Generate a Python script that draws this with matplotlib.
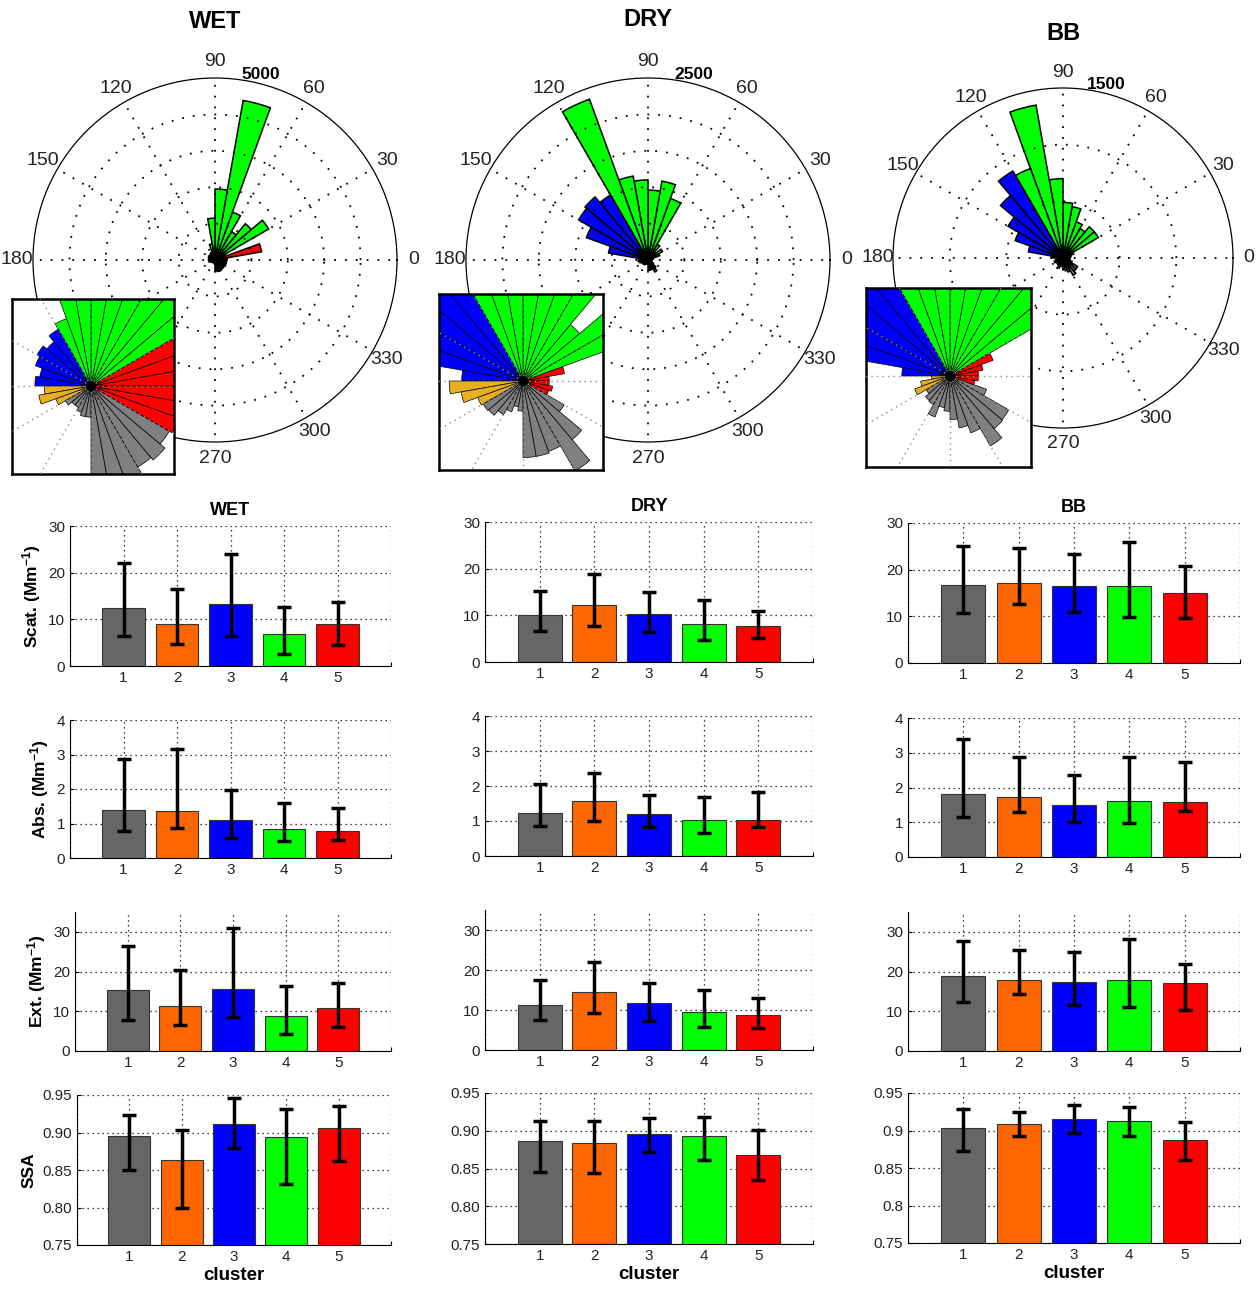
import numpy as np
import matplotlib
matplotlib.use('Agg')
import matplotlib.pyplot as plt
from matplotlib.patches import Wedge

plt.rcParams['font.family'] = ['Liberation Sans', 'DejaVu Sans']
plt.rcParams['mathtext.fontset'] = 'custom'
plt.rcParams['mathtext.bf'] = 'Liberation Sans:bold'
plt.rcParams['mathtext.default'] = 'bf'

W, H = 1258, 1290

regimes = ['WET', 'DRY', 'BB']
clusters = [1, 2, 3, 4, 5]
bar_colors = ['#666666', '#ff6600', '#0000ff', '#00ff00', '#ff0000']
rose_colors = ['#808080', '#e8b020', '#0000ff', '#00ff00', '#ff0000']

# wind direction bins (10 deg), counts and the cluster each bin belongs to
dir_centers = np.arange(5, 360, 10)
wet_counts = [330, 1300, 300, 1700, 1300, 900, 1400, 4450, 1950, 1150, 450, 230,
              210, 185, 200, 190, 167, 180, 150, 170, 120,
              95, 80, 80, 90, 100, 100, 290, 320, 330, 300, 310, 290,
              300, 320, 310]
wet_cluster = [5, 5, 5, 4, 4, 4, 4, 4, 4, 4, 4, 4,
               3, 3, 3, 3, 3, 3, 2, 2, 2,
               1, 1, 1, 1, 1, 1, 1, 1, 1, 1, 1, 1,
               5, 5, 5]
dry_counts = [48, 77, 170, 230, 135, 250, 900, 1100, 960, 1100, 1170, 2350,
              1030, 1130, 1100, 900, 550, 112, 135, 115, 88,
              84, 82, 71, 60, 48, 55, 140, 140, 137, 190, 140, 87,
              50, 55, 48]
dry_cluster = [5, 5, 4, 4, 4, 4, 4, 4, 4, 4, 4, 4,
               3, 3, 3, 3, 3, 3, 2, 2, 2,
               1, 1, 1, 1, 1, 1, 1, 1, 1, 1, 1, 1,
               5, 5, 5]
bb_counts = [62, 73, 100, 360, 360, 300, 340, 460, 490, 700, 1370, 840,
             885, 720, 560, 450, 310, 105, 40, 65, 82,
             60, 70, 72, 95, 70, 77, 95, 115, 132, 176, 150, 148, 85,
             55, 62]
bb_cluster = [5, 5, 5, 4, 4, 4, 4, 4, 4, 4, 4, 4,
              3, 3, 3, 3, 3, 3, 2, 2, 2,
              1, 1, 1, 1, 1, 1, 1, 1, 1, 1, 1, 1, 1,
              5, 5]
rose_max = [5000, 2500, 1500]
rose_step = [1000, 500, 500]
inset_range = [260, 150, 180]

# optical properties per cluster: rows WET, DRY, BB
scat_mean = [[12.5, 8.9, 13.3, 6.8, 8.9], [10.1, 12.2, 10.3, 8.1, 7.7], [16.8, 17.1, 16.4, 16.4, 15.1]]
scat_low = [[6.4, 4.8, 6.4, 2.5, 4.6], [6.6, 7.7, 6.4, 4.7, 5.1], [10.8, 12.7, 11.0, 9.9, 9.7]]
scat_high = [[22.0, 16.4, 24.0, 12.7, 13.7], [15.2, 18.8, 15.0, 13.3, 10.9], [25.0, 24.6, 23.3, 25.9, 20.7]]
abs_mean = [[1.39, 1.36, 1.10, 0.84, 0.78], [1.24, 1.57, 1.21, 1.04, 1.04], [1.81, 1.73, 1.50, 1.61, 1.58]]
abs_low = [[0.78, 0.87, 0.58, 0.49, 0.52], [0.87, 1.01, 0.84, 0.67, 0.84], [1.15, 1.29, 1.01, 0.98, 1.32]]
abs_high = [[2.87, 3.16, 1.97, 1.59, 1.45], [2.05, 2.36, 1.75, 1.69, 1.84], [3.40, 2.88, 2.36, 2.88, 2.73]]
ext_mean = [[15.4, 11.3, 15.6, 8.8, 10.8], [11.2, 14.5, 11.8, 9.5, 8.8], [19.0, 18.0, 17.5, 18.0, 17.0]]
ext_low = [[7.8, 6.5, 8.6, 4.3, 6.0], [7.5, 9.3, 7.3, 5.8, 5.5], [12.3, 14.3, 11.5, 11.0, 10.3]]
ext_high = [[26.5, 20.4, 31.0, 16.4, 17.1], [17.5, 22.0, 16.8, 15.0, 13.0], [27.8, 25.5, 25.0, 28.3, 22.0]]
ssa_mean = [[0.896, 0.863, 0.911, 0.894, 0.906], [0.886, 0.884, 0.896, 0.893, 0.868], [0.903, 0.909, 0.915, 0.913, 0.887]]
ssa_low = [[0.850, 0.799, 0.879, 0.831, 0.862], [0.845, 0.844, 0.872, 0.861, 0.835], [0.873, 0.893, 0.897, 0.893, 0.861]]
ssa_high = [[0.923, 0.903, 0.946, 0.931, 0.936], [0.913, 0.913, 0.917, 0.918, 0.901], [0.929, 0.925, 0.934, 0.931, 0.911]]

scat_ticks = [0, 10, 20, 30]
abs_ticks = [0, 1, 2, 3, 4]
ext_ticks = [0, 10, 20, 30]
ssa_ticks = [0.75, 0.80, 0.85, 0.90, 0.95]
ssa_labels = [['0.75', '0.80', '0.85', '0.90', '0.95'],
              ['0.75', '0.80', '0.85', '0.90', '0.95'],
              ['0.75', '0.8', '0.85', '0.9', '0.95']]


def box(x0, y0, x1, y1):
    return [x0 / W, 1 - y1 / H, (x1 - x0) / W, (y1 - y0) / H]


fig = plt.figure(figsize=(W / 100, H / 100), dpi=100)

# ---------------- wind roses ----------------
rose_counts = [wet_counts, dry_counts, bb_counts]
rose_cluster = [wet_cluster, dry_cluster, bb_cluster]
rose_center = [(215, 260, 182), (648, 260, 182), (1063, 258, 170)]
rose_title_y = [22, 20, 33]
inset_box = [(12, 299, 174, 474, 91, 386), (439, 294, 603, 470, 523, 381),
             (866, 288, 1031, 467, 950, 376)]

for k in range(3):
    cx, cy, r = rose_center[k]
    ax = fig.add_axes(box(cx - r, cy - r, cx + r, cy + r), projection='polar')
    theta = np.deg2rad(dir_centers)
    cols = [rose_colors[c - 1] for c in rose_cluster[k]]
    ax.bar(theta, rose_counts[k], width=np.deg2rad(10), color=cols,
           edgecolor='k', linewidth=1.1, align='center')
    rmax = rose_max[k]
    ax.set_ylim(0, rmax)
    ax.set_rgrids(np.arange(rose_step[k], rmax, rose_step[k]), labels=[])
    ax.set_thetagrids(np.arange(0, 360, 30), labels=[])
    ax.grid(True, linestyle=(0, (1, 5)), color='k', linewidth=1.3)
    ax.spines['polar'].set_linewidth(0.9)
    ax.tick_params(length=0)
    for a in range(0, 360, 30):
        ax.text(np.deg2rad(a), rmax * 1.09, str(a), ha='center', va='center',
                fontsize=14, color='#222222')
    ax.text(np.deg2rad(76), rmax * 1.05, str(rmax), ha='center', va='center',
            fontsize=12.5, fontweight='bold')
    fig.text(cx / W, 1 - rose_title_y[k] / H, regimes[k], ha='center', va='center',
             fontsize=17, fontweight='bold')

    # zoom of the rose centre
    x0, y0, x1, y1, icx, icy = inset_box[k]
    s = inset_range[k] / ((x1 - x0) / 2.0)
    iax = fig.add_axes(box(x0, y0, x1, y1))
    iax.set_facecolor('white')
    for ang, val, c in zip(dir_centers, rose_counts[k], rose_cluster[k]):
        iax.add_patch(Wedge((0, 0), val, ang - 5, ang + 5, facecolor=rose_colors[c - 1],
                            edgecolor='k', linewidth=0.5, zorder=2))
    far = 3 * inset_range[k]
    for a in np.deg2rad(np.arange(0, 360, 30)):
        iax.plot([0, far * np.cos(a)], [0, far * np.sin(a)], linestyle=(0, (1, 3)),
                 color='0.55', linewidth=1.0, zorder=3)
    iax.plot(0, 0, 'o', color='k', markersize=5, zorder=4)
    iax.set_xlim((x0 - icx) * s, (x1 - icx) * s)
    iax.set_ylim((icy - y1) * s, (icy - y0) * s)
    iax.set_xticks([])
    iax.set_yticks([])
    for sp in iax.spines.values():
        sp.set_linewidth(1.8)

# ---------------- bar charts ----------------
quantities = [
    (scat_mean, scat_low, scat_high, scat_ticks, (0, 30), 'Scat. (Mm$^{-1}$)'),
    (abs_mean, abs_low, abs_high, abs_ticks, (0, 4), 'Abs. (Mm$^{-1}$)'),
    (ext_mean, ext_low, ext_high, ext_ticks, (0, 35), 'Ext. (Mm$^{-1}$)'),
    (ssa_mean, ssa_low, ssa_high, ssa_ticks, (0.75, 0.95), 'SSA'),
]
bar_boxes = [
    [(70, 526, 391, 666), (485, 522, 813, 662), (908, 523, 1240, 663)],
    [(70, 720, 391, 858), (485, 716, 813, 856), (908, 718, 1240, 857)],
    [(75, 912, 391, 1051), (485, 910, 813, 1050), (908, 912, 1240, 1051)],
    [(77, 1095, 391, 1245), (485, 1093, 813, 1244), (908, 1093, 1240, 1243)],
]

x = np.array(clusters)
for i, (mean, low, high, ticks, ylim, ylab) in enumerate(quantities):
    for j in range(3):
        ax = fig.add_axes(box(*bar_boxes[i][j]))
        m = np.array(mean[j])
        yerr = [m - np.array(low[j]), np.array(high[j]) - m]
        ax.bar(x, m, 0.8, color=bar_colors, edgecolor='#333333', linewidth=0.8, zorder=2)
        ax.errorbar(x, m, yerr=yerr, fmt='none', ecolor='k', elinewidth=2.5,
                    capsize=5, capthick=2.5, zorder=3)
        ax.set_xlim(0, 6)
        ax.set_ylim(*ylim)
        ax.set_xticks(range(7))
        ax.set_xticklabels([''] + [str(c) for c in clusters] + [''])
        ax.set_yticks(ticks)
        if i == 3:
            ax.set_yticklabels(ssa_labels[j])
            ax.set_xlabel('cluster', fontsize=13.5, fontweight='bold', labelpad=2)
        ax.grid(True, linestyle=(0, (1, 3)), color='k', linewidth=0.9)
        ax.set_axisbelow(True)
        ax.spines['top'].set_visible(False)
        ax.spines['right'].set_visible(False)
        ax.tick_params(direction='in', length=3, labelsize=11, labelcolor='#222222')
        if i == 0:
            ax.set_title(regimes[j], fontsize=13, fontweight='bold', pad=8)
        if j == 0:
            ax.set_ylabel(ylab, fontsize=12.5, fontweight='bold')

fig.savefig('out.png', dpi=100, facecolor='white')
